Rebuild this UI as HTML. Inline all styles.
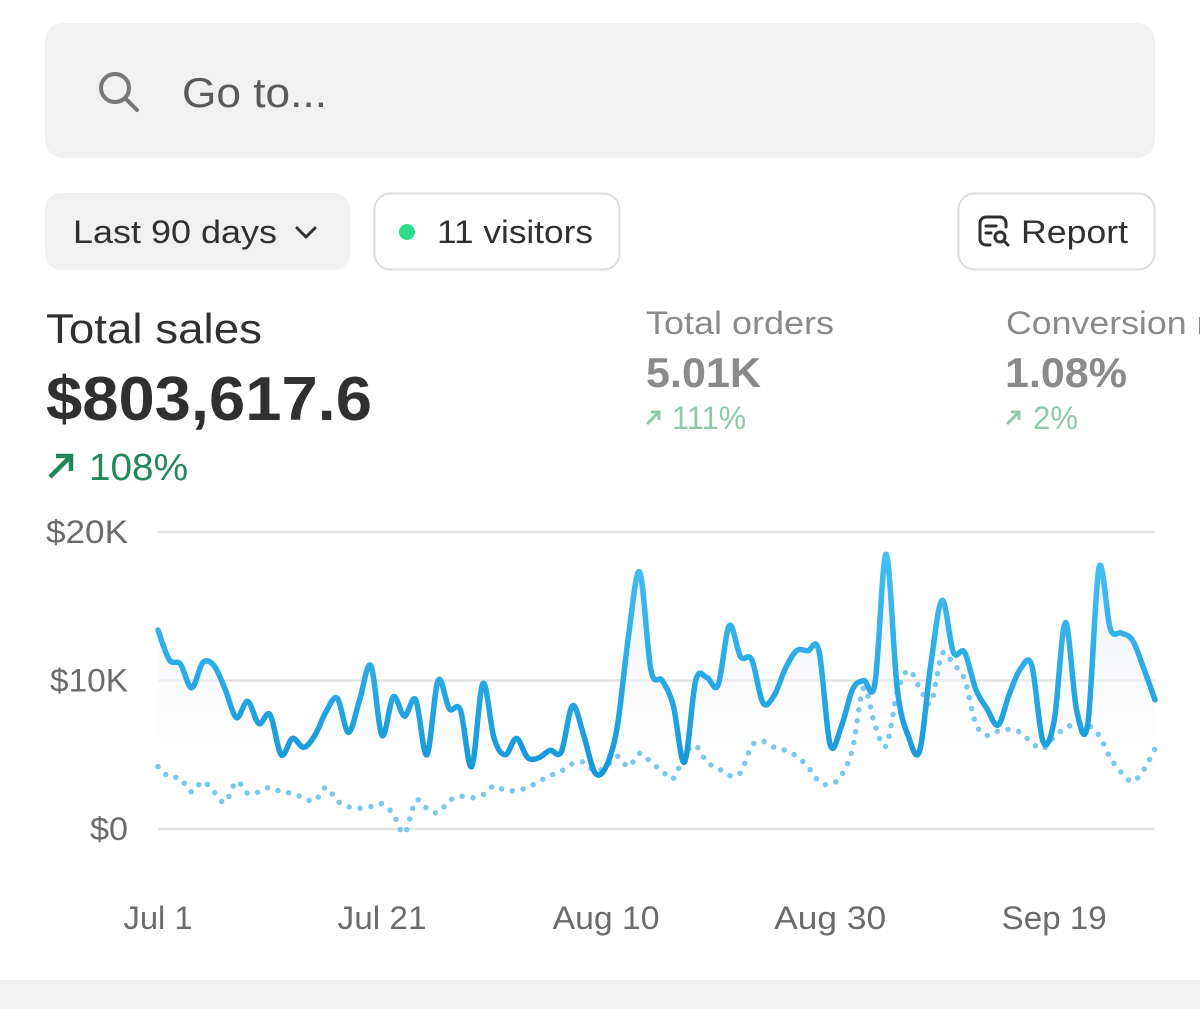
<!DOCTYPE html>
<html><head><meta charset="utf-8"><style>
html,body{margin:0;padding:0;width:1200px;height:1009px;overflow:hidden;background:#fff;font-family:"Liberation Sans",Arial,sans-serif}
svg{display:block}
</style></head><body>
<svg id="root" width="1200" height="1009" viewBox="0 0 1200 1009" xmlns="http://www.w3.org/2000/svg" font-family="Liberation Sans, Arial, sans-serif">
<defs>
<linearGradient id="lineGrad" gradientUnits="userSpaceOnUse" x1="0" y1="550" x2="0" y2="780">
<stop offset="0" stop-color="#45c0f4"/><stop offset="1" stop-color="#1497d6"/></linearGradient>
<linearGradient id="areaGrad" gradientUnits="userSpaceOnUse" x1="0" y1="560" x2="0" y2="829">
<stop offset="0" stop-color="#eef0f5" stop-opacity="0.9"/><stop offset="1" stop-color="#ffffff" stop-opacity="0"/></linearGradient>
</defs>
<g>
<rect x="45" y="23" width="1110" height="135" rx="18" fill="#f1f1f1"/>
<g stroke="#777" stroke-width="4" fill="none" stroke-linecap="round">
<circle cx="115" cy="88" r="14"/><line x1="126" y1="99" x2="137" y2="110"/></g>
<text x="182" y="107" font-size="42" fill="#5a5a5a" textLength="145" lengthAdjust="spacingAndGlyphs">Go to...</text>
</g>
<g>
<rect x="45" y="193" width="305" height="77" rx="16" fill="#f1f1f2"/>
<text x="73" y="243" font-size="32" fill="#303030" textLength="204" lengthAdjust="spacingAndGlyphs">Last 90 days</text>
<polyline points="297,228 306,237 315,228" fill="none" stroke="#303030" stroke-width="3" stroke-linecap="round" stroke-linejoin="round"/>
</g>
<g>
<rect x="374.5" y="193.5" width="245" height="76" rx="16" fill="#fff" stroke="#ddd" stroke-width="2"/>
<circle cx="407" cy="232" r="8" fill="#2fdc86"/>
<text x="437" y="243" font-size="32" fill="#303030" textLength="156" lengthAdjust="spacingAndGlyphs">11 visitors</text>
</g>
<g>
<rect x="958.5" y="193.5" width="196" height="76" rx="16" fill="#fff" stroke="#ddd" stroke-width="2"/>
<g fill="none" stroke="#303030" stroke-width="3" stroke-linecap="round">
<path d="M990 245 h-4 a6 6 0 0 1 -6 -6 v-16 a6 6 0 0 1 6 -6 h14 a6 6 0 0 1 6 6 v4"/>
<line x1="986" y1="226" x2="996" y2="226"/><line x1="986" y1="233" x2="991" y2="233"/>
<circle cx="1000" cy="237" r="5"/><line x1="1004" y1="241" x2="1008" y2="245"/></g>
<text x="1021" y="243" font-size="32" fill="#303030" textLength="107" lengthAdjust="spacingAndGlyphs">Report</text>
</g>
<text x="46" y="343" font-size="42" fill="#303030" textLength="216" lengthAdjust="spacingAndGlyphs">Total sales</text>
<text x="46" y="420" font-size="62" font-weight="bold" fill="#303030" textLength="326" lengthAdjust="spacingAndGlyphs">$803,617.6</text>
<g>
<path d="M50 477 L70 457 M56 456 H71 V471" stroke="#23875a" stroke-width="4.5" fill="none"/>
<text x="89" y="480" font-size="38" fill="#23875a" textLength="99" lengthAdjust="spacingAndGlyphs">108%</text></g>
<text x="646" y="334" font-size="32" fill="#8a8a8a" textLength="188" lengthAdjust="spacingAndGlyphs">Total orders</text>
<text x="646" y="387" font-size="42" font-weight="bold" fill="#8a8a8a" textLength="115" lengthAdjust="spacingAndGlyphs">5.01K</text>
<g>
<path d="M647 424 L658 413 M651 412 H659 V420" stroke="#8fc9a9" stroke-width="3" fill="none"/>
<text x="672" y="429" font-size="32" fill="#8fc9a9" textLength="74" lengthAdjust="spacingAndGlyphs">111%</text></g>
<text x="1006" y="334" font-size="32" fill="#8a8a8a" textLength="252" lengthAdjust="spacingAndGlyphs">Conversion rate</text>
<text x="1005" y="387" font-size="42" font-weight="bold" fill="#8a8a8a" textLength="122" lengthAdjust="spacingAndGlyphs">1.08%</text>
<g>
<path d="M1007 424 L1018 413 M1011 412 H1019 V420" stroke="#8fc9a9" stroke-width="3" fill="none"/>
<text x="1033" y="429" font-size="32" fill="#8fc9a9" textLength="45" lengthAdjust="spacingAndGlyphs">2%</text></g>
<g id="chart"></g>
<rect x="0" y="980" width="1200" height="29" fill="#f1f1f1"/>
</svg>
<script>
var yTicks = [0, 10, 20];
var yTickLabels = ["$0", "$10K", "$20K"];
var xTickLabels = ["Jul 1", "Jul 21", "Aug 10", "Aug 30", "Sep 19"];
var xTickDays = [0, 20, 40, 60, 80];
var salesCurrent = [13.4,11.4,11.1,9.5,11.2,11,9.4,7.5,8.6,7.1,7.7,5,6.1,5.5,6.3,7.9,8.8,6.5,8.7,11,6.3,8.9,7.6,8.7,5,10,8.1,8,4.2,9.8,6.1,5,6.1,4.8,4.8,5.3,5.2,8.3,6.3,3.8,4.2,6.9,13,17.3,10.7,10,8.3,4.5,10,10.2,9.7,13.7,11.6,11.4,8.5,9,10.8,12,12,12,5.7,6.9,9.4,10,9.8,18.5,9.4,6.2,5.3,11.2,15.4,11.9,11.9,9.4,8.1,7,9.1,10.8,11,5.9,7.3,13.9,8,7.1,17.6,13.5,13.2,12.7,10.8,8.7];
var salesPrevious = [4.2,3.5,3.4,2.5,3.2,2.5,1.8,3.2,2.4,2.5,2.8,2.5,2.4,2.1,1.9,2.8,1.9,1.5,1.4,1.5,1.7,1.0,-0.3,1.9,1.4,1.1,1.9,2.2,2.1,2.3,2.9,2.6,2.6,2.8,3.2,3.6,3.9,4.4,4.5,3.9,4.2,4.9,4.2,5.1,4.5,3.9,3.4,5.0,5.6,4.5,4.1,3.6,3.8,5.6,5.9,5.5,5.3,4.9,4.2,3.2,3.0,3.6,5.4,9.5,7.0,5.6,9.2,10.7,9.5,8.5,11.8,11.1,10.1,7.1,6.3,6.6,6.7,6.5,5.8,5.4,6.2,6.8,7.1,7.0,6.3,4.8,3.8,3.2,4.0,5.4];
(function(){
var NS="http://www.w3.org/2000/svg", g=document.getElementById('chart');
var X0=158,X1=1155,Y0=829,PX=14.85, DAYS=90;
var xLabelWidths=[69,89,107,112,105];
var yLabelWidths=[38,78,82];
function y(v){return Y0-v*PX;}
function xd(d){return X0+d*(X1-X0)/(DAYS-1);}
function xi(i,n){return X0+i*(X1-X0)/(n-1);}
function mk(t,a){var e=document.createElementNS(NS,t);for(var k in a)e.setAttribute(k,a[k]);g.appendChild(e);return e;}
yTicks.forEach(function(v,i){
 var l=mk('line',{x1:X0,x2:X1,y1:y(v),y2:y(v),stroke:'#e3e3e3','stroke-width':2.5});
 
 
 var t=mk('text',{x:128-yLabelWidths[i],y:y(v)+11,'font-size':32,fill:'#6b6b6b',textLength:yLabelWidths[i],lengthAdjust:'spacingAndGlyphs'});
 t.textContent=yTickLabels[i];
 
 
});
xTickLabels.forEach(function(s,i){
 var cx=xd(xTickDays[i]);
 var t=mk('text',{x:cx-xLabelWidths[i]/2,y:929,'font-size':32,fill:'#6b6b6b',textLength:xLabelWidths[i],lengthAdjust:'spacingAndGlyphs'});
 t.textContent=s;
 
 
});
function smooth(pts){
 var d='M'+pts[0][0]+' '+pts[0][1];
 for(var i=0;i<pts.length-1;i++){
  var p0=pts[i-1]||pts[i],p1=pts[i],p2=pts[i+1],p3=pts[i+2]||p2;
  var c1x=p1[0]+(p2[0]-p0[0])/6,c1y=p1[1]+(p2[1]-p0[1])/6,c2x=p2[0]-(p3[0]-p1[0])/6,c2y=p2[1]-(p3[1]-p1[1])/6;
  d+=' C'+c1x.toFixed(1)+' '+c1y.toFixed(1)+' '+c2x.toFixed(1)+' '+c2y.toFixed(1)+' '+p2[0].toFixed(1)+' '+p2[1].toFixed(1);
 }
 return d;
}
var pc=salesCurrent.map(function(v,i){return [xi(i,salesCurrent.length),y(v)];});
var pp=salesPrevious.map(function(v,i){return [xi(i,salesPrevious.length),y(v)];});
var dc=smooth(pc);
var area=mk('path',{d:dc+' L'+X1+' '+Y0+' L'+X0+' '+Y0+' Z',fill:'url(#areaGrad)'});


var prev=mk('path',{d:smooth(pp),fill:'none',stroke:'#7cc8ea','stroke-width':5.5,'stroke-linecap':'round','stroke-dasharray':'0 11'});


var cur=mk('path',{d:dc,fill:'none',stroke:'url(#lineGrad)','stroke-width':5.5,'stroke-linejoin':'round','stroke-linecap':'round'});


})();
</script>
</body></html>
